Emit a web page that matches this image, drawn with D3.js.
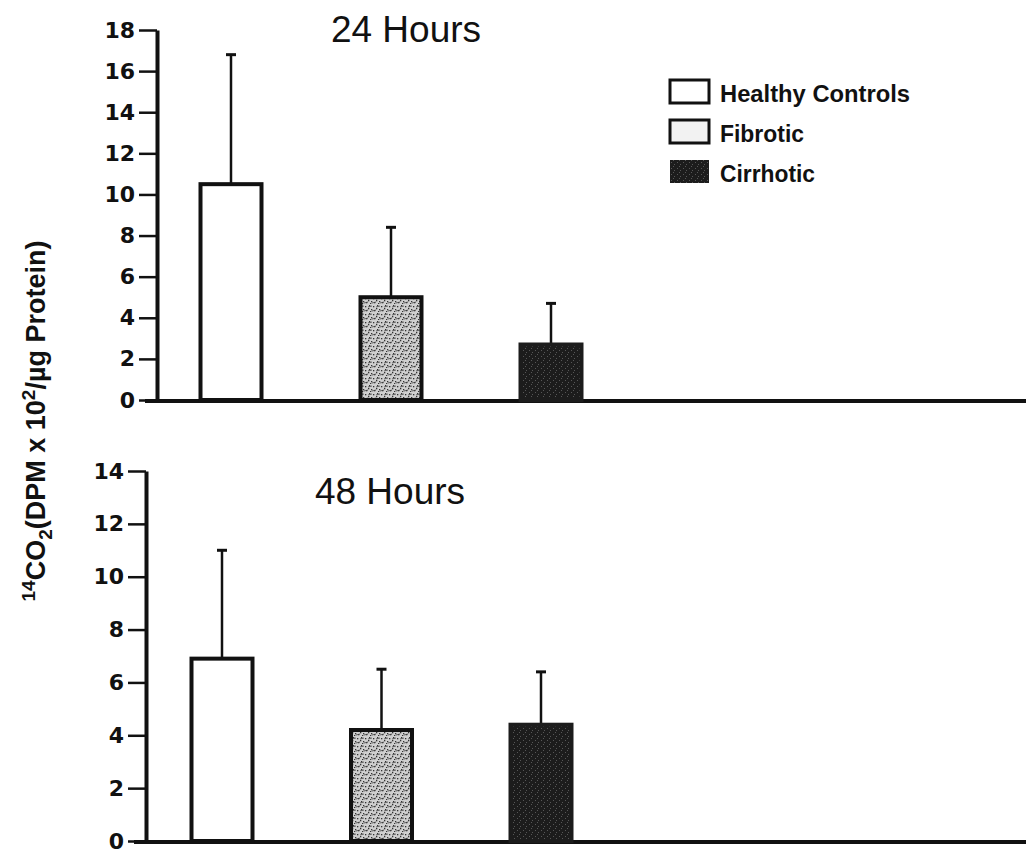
<!DOCTYPE html>
<html>
<head>
<meta charset="utf-8">
<script src="https://cdn.jsdelivr.net/npm/d3@7"></script>
<style>
  body { margin: 0; background: #fff; }
  svg { display: block; }
</style>
</head>
<body>
<svg width="1026" height="854"></svg>
<script>
var groups = ["Healthy Controls", "Fibrotic", "Cirrhotic"];
var means24 = [10.5, 5.0, 2.7];
var errs24 = [16.8, 8.4, 4.7];
var means48 = [6.9, 4.2, 4.4];
var errs48 = [11.0, 6.5, 6.4];
var ticks24 = [0, 2, 4, 6, 8, 10, 12, 14, 16, 18];
var ticks48 = [0, 2, 4, 6, 8, 10, 12, 14];

var svg = d3.select("svg");
var defs = svg.append("defs");

// stipple textures for the two shaded groups
var pf = defs.append("pattern").attr("id", "fib").attr("patternUnits", "userSpaceOnUse")
    .attr("width", 8).attr("height", 8);
pf.append("rect").attr("width", 8).attr("height", 8).attr("fill", "#cfcfcf");
[[1,1],[5,2],[3,5],[6,6],[0,4],[2,7]].forEach(function(p) {
  pf.append("rect").attr("x", p[0]).attr("y", p[1]).attr("width", 1.3).attr("height", 1.3).attr("fill", "#333");
});
pf.append("path").attr("d", "M0,3 L4,2 M4,7 L8,6").attr("stroke", "#444").attr("stroke-width", 0.8);

var pc = defs.append("pattern").attr("id", "cir").attr("patternUnits", "userSpaceOnUse")
    .attr("width", 6).attr("height", 6);
pc.append("rect").attr("width", 6).attr("height", 6).attr("fill", "#1c1c1c");
[[1,2],[4,4],[3,0]].forEach(function(p) {
  pc.append("rect").attr("x", p[0]).attr("y", p[1]).attr("width", 0.8).attr("height", 0.8).attr("fill", "#777");
});

var fills = { "Healthy Controls": "#fff", "Fibrotic": "url(#fib)", "Cirrhotic": "url(#cir)" };
var strokes = { "Healthy Controls": "#111", "Fibrotic": "#111", "Cirrhotic": "#1c1c1c" };

function panel(opts) {
  var y = d3.scaleLinear().domain([0, opts.max]).range([opts.y0, opts.y1]);
  var x = d3.scalePoint().domain(groups).range(opts.xr);
  var g = svg.append("g");
  var bw = 61;

  // baseline running to the right edge
  g.append("line").attr("x1", opts.ax - 12).attr("x2", 1026)
    .attr("y1", y(0) + 1).attr("y2", y(0) + 1)
    .attr("stroke", "#111").attr("stroke-width", 4);

  var axis = g.append("g").attr("transform", "translate(" + opts.ax + ",0)")
    .call(d3.axisLeft(y).tickValues(opts.ticks).tickSize(18).tickPadding(4).tickSizeOuter(0));
  axis.attr("font-size", null).attr("font-family", null);
  axis.select(".domain").attr("stroke", "#111").attr("stroke-width", 4);
  axis.selectAll(".tick line").attr("stroke", "#111").attr("stroke-width", 2.5);
  axis.selectAll(".tick text")
    .attr("font-family", "DejaVu Sans, Liberation Sans, Arial, sans-serif")
    .attr("font-weight", "bold").attr("font-size", 22).attr("fill", "#111");

  var data = groups.map(function(k, i) { return { k: k, m: opts.means[i], e: opts.errs[i] }; });

  // error bars
  g.selectAll(".err").data(data).enter().append("line")
    .attr("x1", function(d) { return x(d.k); }).attr("x2", function(d) { return x(d.k); })
    .attr("y1", function(d) { return y(d.m); }).attr("y2", function(d) { return y(d.e); })
    .attr("stroke", "#111").attr("stroke-width", 2.5);
  g.selectAll(".cap").data(data).enter().append("line")
    .attr("x1", function(d) { return x(d.k) - 5; }).attr("x2", function(d) { return x(d.k) + 5; })
    .attr("y1", function(d) { return y(d.e); }).attr("y2", function(d) { return y(d.e); })
    .attr("stroke", "#111").attr("stroke-width", 3);

  g.selectAll(".bar").data(data).enter().append("rect")
    .attr("x", function(d) { return x(d.k) - bw / 2; })
    .attr("width", bw)
    .attr("y", function(d) { return y(d.m); })
    .attr("height", function(d) { return y(0) - y(d.m); })
    .attr("fill", function(d) { return fills[d.k]; })
    .attr("stroke", function(d) { return strokes[d.k]; })
    .attr("stroke-width", 4);

  g.append("text").attr("x", opts.tx).attr("y", opts.ty).attr("text-anchor", "middle")
    .attr("font-family", "Liberation Sans, Arial, sans-serif").attr("font-size", 37)
    .attr("fill", "#111").text(opts.title);
}

panel({ max: 18, y0: 400, y1: 30, ax: 157, xr: [231, 551], ticks: ticks24,
        means: means24, errs: errs24, title: "24 Hours", tx: 406, ty: 42 });
panel({ max: 14, y0: 841, y1: 471, ax: 146, xr: [222, 541], ticks: ticks48,
        means: means48, errs: errs48, title: "48 Hours", tx: 390, ty: 504 });

// legend
var leg = svg.append("g").attr("transform", "translate(670,80)");
var li = leg.selectAll("g").data(groups).enter().append("g")
  .attr("transform", function(d, i) { return "translate(0," + i * 40 + ")"; });
li.append("rect").attr("width", 39).attr("height", 23)
  .attr("fill", function(d) { return d === "Fibrotic" ? "#f2f2f2" : fills[d]; })
  .attr("stroke", "#111").attr("stroke-width", function(d) { return d === "Cirrhotic" ? 0 : 3; });
li.append("text").attr("x", 50).attr("y", 22)
  .attr("font-family", "Liberation Sans, Arial, sans-serif")
  .attr("font-weight", "bold").attr("font-size", 23).attr("fill", "#111")
  .attr("textLength", function(d, i) { return [190, 84, 95][i]; })
  .attr("lengthAdjust", "spacingAndGlyphs")
  .text(function(d) { return d; });

// y label
var yl = svg.append("text").attr("transform", "translate(45,421) rotate(-90)")
  .attr("text-anchor", "middle")
  .attr("font-family", "Liberation Sans, Arial, sans-serif")
  .attr("font-weight", "bold").attr("font-size", 27).attr("fill", "#111");
yl.append("tspan").attr("font-size", 19).attr("dy", -10).text("14");
yl.append("tspan").attr("dy", 10).text("CO");
yl.append("tspan").attr("font-size", 19).attr("dy", 7).text("2");
yl.append("tspan").attr("dy", -7).text("(DPM x 10");
yl.append("tspan").attr("font-size", 19).attr("dy", -10).text("2");
yl.append("tspan").attr("dy", 10).text("/\u00b5g  Protein)");
</script>
</body>
</html>
